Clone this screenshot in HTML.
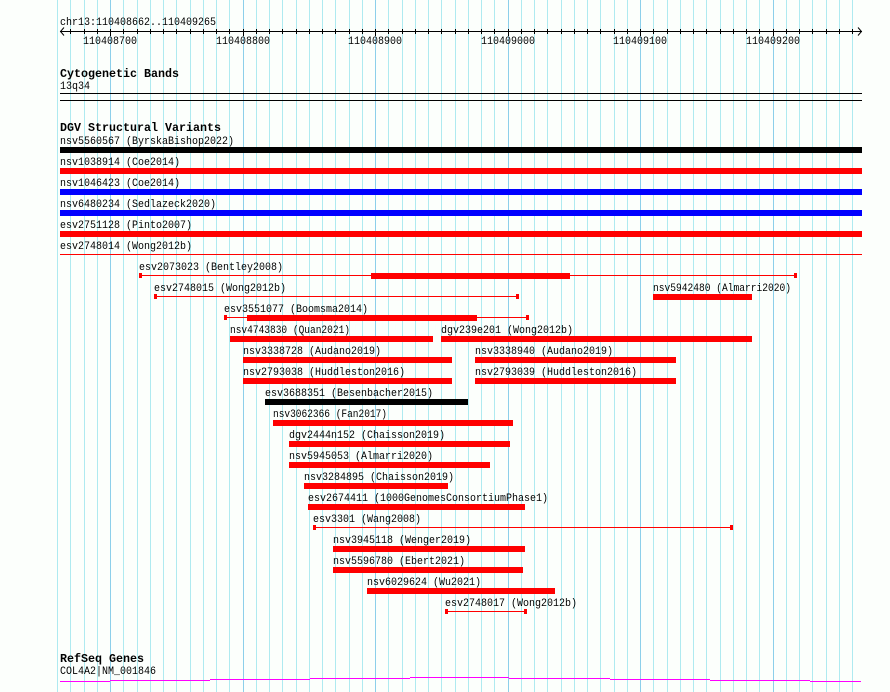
<!DOCTYPE html>
<html><head><meta charset="utf-8">
<style>
html,body{margin:0;padding:0;background:#fcfffc;}
svg{display:block;}
text{font-family:"Liberation Mono","DejaVu Sans Mono",monospace;fill:#000;}
.l{font-size:11px;}
.b{font-size:12px;font-weight:bold;}
</style></head>
<body>
<svg width="890" height="692" viewBox="0 0 890 692" xmlns="http://www.w3.org/2000/svg" shape-rendering="crispEdges">
<rect x="0" y="0" width="890" height="692" fill="#fcfffc"/>
<!-- grid -->
<g fill="#aeeaf0">
<rect x="57" y="0" width="1" height="692"/><rect x="70" y="0" width="1" height="692"/><rect x="84" y="0" width="1" height="692"/><rect x="97" y="0" width="1" height="692"/>
<rect x="123" y="0" width="1" height="692"/><rect x="137" y="0" width="1" height="692"/><rect x="150" y="0" width="1" height="692"/><rect x="163" y="0" width="1" height="692"/><rect x="176" y="0" width="1" height="692"/><rect x="190" y="0" width="1" height="692"/><rect x="203" y="0" width="1" height="692"/><rect x="216" y="0" width="1" height="692"/><rect x="229" y="0" width="1" height="692"/>
<rect x="256" y="0" width="1" height="692"/><rect x="269" y="0" width="1" height="692"/><rect x="282" y="0" width="1" height="692"/><rect x="296" y="0" width="1" height="692"/><rect x="309" y="0" width="1" height="692"/><rect x="322" y="0" width="1" height="692"/><rect x="335" y="0" width="1" height="692"/><rect x="349" y="0" width="1" height="692"/><rect x="362" y="0" width="1" height="692"/>
<rect x="388" y="0" width="1" height="692"/><rect x="402" y="0" width="1" height="692"/><rect x="415" y="0" width="1" height="692"/><rect x="428" y="0" width="1" height="692"/><rect x="441" y="0" width="1" height="692"/><rect x="455" y="0" width="1" height="692"/><rect x="468" y="0" width="1" height="692"/><rect x="481" y="0" width="1" height="692"/><rect x="494" y="0" width="1" height="692"/>
<rect x="521" y="0" width="1" height="692"/><rect x="534" y="0" width="1" height="692"/><rect x="547" y="0" width="1" height="692"/><rect x="561" y="0" width="1" height="692"/><rect x="574" y="0" width="1" height="692"/><rect x="587" y="0" width="1" height="692"/><rect x="600" y="0" width="1" height="692"/><rect x="614" y="0" width="1" height="692"/><rect x="627" y="0" width="1" height="692"/>
<rect x="653" y="0" width="1" height="692"/><rect x="667" y="0" width="1" height="692"/><rect x="680" y="0" width="1" height="692"/><rect x="693" y="0" width="1" height="692"/><rect x="706" y="0" width="1" height="692"/><rect x="720" y="0" width="1" height="692"/><rect x="733" y="0" width="1" height="692"/><rect x="746" y="0" width="1" height="692"/><rect x="759" y="0" width="1" height="692"/>
<rect x="786" y="0" width="1" height="692"/><rect x="799" y="0" width="1" height="692"/><rect x="812" y="0" width="1" height="692"/><rect x="826" y="0" width="1" height="692"/><rect x="839" y="0" width="1" height="692"/><rect x="852" y="0" width="1" height="692"/>
</g>
<g fill="#8ccfea">
<rect x="110" y="0" width="1" height="692"/><rect x="243" y="0" width="1" height="692"/><rect x="375" y="0" width="1" height="692"/><rect x="508" y="0" width="1" height="692"/><rect x="640" y="0" width="1" height="692"/><rect x="773" y="0" width="1" height="692"/>
</g>

<!-- ruler -->
<text class="l" x="60" y="25" textLength="156" lengthAdjust="spacingAndGlyphs">chr13:110408662..110409265</text>
<rect x="60" y="31" width="802" height="1" fill="#000"/>
<path d="M64,27.5 L60.5,31.5 L64,35.5" stroke="#000" fill="none" shape-rendering="auto"/>
<path d="M858,27.5 L861.5,31.5 L858,35.5" stroke="#000" fill="none" shape-rendering="auto"/>
<g fill="#000">
<rect x="70" y="29" width="1" height="5"/><rect x="84" y="29" width="1" height="5"/><rect x="97" y="29" width="1" height="5"/>
<rect x="110" y="29" width="1" height="7"/>
<rect x="123" y="29" width="1" height="5"/><rect x="137" y="29" width="1" height="5"/><rect x="150" y="29" width="1" height="5"/><rect x="163" y="29" width="1" height="5"/><rect x="176" y="29" width="1" height="5"/><rect x="190" y="29" width="1" height="5"/><rect x="203" y="29" width="1" height="5"/><rect x="216" y="29" width="1" height="5"/><rect x="229" y="29" width="1" height="5"/>
<rect x="243" y="29" width="1" height="7"/>
<rect x="256" y="29" width="1" height="5"/><rect x="269" y="29" width="1" height="5"/><rect x="282" y="29" width="1" height="5"/><rect x="296" y="29" width="1" height="5"/><rect x="309" y="29" width="1" height="5"/><rect x="322" y="29" width="1" height="5"/><rect x="335" y="29" width="1" height="5"/><rect x="349" y="29" width="1" height="5"/><rect x="362" y="29" width="1" height="5"/>
<rect x="375" y="29" width="1" height="7"/>
<rect x="388" y="29" width="1" height="5"/><rect x="402" y="29" width="1" height="5"/><rect x="415" y="29" width="1" height="5"/><rect x="428" y="29" width="1" height="5"/><rect x="441" y="29" width="1" height="5"/><rect x="455" y="29" width="1" height="5"/><rect x="468" y="29" width="1" height="5"/><rect x="481" y="29" width="1" height="5"/><rect x="494" y="29" width="1" height="5"/>
<rect x="508" y="29" width="1" height="7"/>
<rect x="521" y="29" width="1" height="5"/><rect x="534" y="29" width="1" height="5"/><rect x="547" y="29" width="1" height="5"/><rect x="561" y="29" width="1" height="5"/><rect x="574" y="29" width="1" height="5"/><rect x="587" y="29" width="1" height="5"/><rect x="600" y="29" width="1" height="5"/><rect x="614" y="29" width="1" height="5"/><rect x="627" y="29" width="1" height="5"/>
<rect x="640" y="29" width="1" height="7"/>
<rect x="653" y="29" width="1" height="5"/><rect x="667" y="29" width="1" height="5"/><rect x="680" y="29" width="1" height="5"/><rect x="693" y="29" width="1" height="5"/><rect x="706" y="29" width="1" height="5"/><rect x="720" y="29" width="1" height="5"/><rect x="733" y="29" width="1" height="5"/><rect x="746" y="29" width="1" height="5"/><rect x="759" y="29" width="1" height="5"/>
<rect x="773" y="29" width="1" height="7"/>
<rect x="786" y="29" width="1" height="5"/><rect x="799" y="29" width="1" height="5"/><rect x="812" y="29" width="1" height="5"/><rect x="826" y="29" width="1" height="5"/><rect x="839" y="29" width="1" height="5"/><rect x="852" y="29" width="1" height="5"/>
</g>
<text class="l" x="83" y="44" textLength="54" lengthAdjust="spacingAndGlyphs">110408700</text>
<text class="l" x="216" y="44" textLength="54" lengthAdjust="spacingAndGlyphs">110408800</text>
<text class="l" x="348" y="44" textLength="54" lengthAdjust="spacingAndGlyphs">110408900</text>
<text class="l" x="481" y="44" textLength="54" lengthAdjust="spacingAndGlyphs">110409000</text>
<text class="l" x="613" y="44" textLength="54" lengthAdjust="spacingAndGlyphs">110409100</text>
<text class="l" x="746" y="44" textLength="54" lengthAdjust="spacingAndGlyphs">110409200</text>

<!-- cytogenetic bands -->
<text class="b" x="60" y="77" textLength="119" lengthAdjust="spacingAndGlyphs">Cytogenetic Bands</text>
<text class="l" x="60" y="89" textLength="30" lengthAdjust="spacingAndGlyphs">13q34</text>
<rect x="60" y="93" width="802" height="1" fill="#000"/>
<rect x="60" y="100" width="802" height="1" fill="#000"/>

<!-- DGV -->
<text class="b" x="60" y="131" textLength="161" lengthAdjust="spacingAndGlyphs">DGV Structural Variants</text>
<text class="l" x="60" y="144" textLength="174" lengthAdjust="spacingAndGlyphs">nsv5560567 (ByrskaBishop2022)</text>
<rect x="60" y="147" width="802" height="6" fill="#000"/>
<text class="l" x="60" y="165" textLength="120" lengthAdjust="spacingAndGlyphs">nsv1038914 (Coe2014)</text>
<rect x="60" y="168" width="802" height="6" fill="#ff0000"/>
<text class="l" x="60" y="186" textLength="120" lengthAdjust="spacingAndGlyphs">nsv1046423 (Coe2014)</text>
<rect x="60" y="189" width="802" height="6" fill="#0000ff"/>
<text class="l" x="60" y="207" textLength="156" lengthAdjust="spacingAndGlyphs">nsv6480234 (Sedlazeck2020)</text>
<rect x="60" y="210" width="802" height="6" fill="#0000ff"/>
<text class="l" x="60" y="228" textLength="132" lengthAdjust="spacingAndGlyphs">esv2751128 (Pinto2007)</text>
<rect x="60" y="231" width="802" height="6" fill="#ff0000"/>
<text class="l" x="60" y="249" textLength="132" lengthAdjust="spacingAndGlyphs">esv2748014 (Wong2012b)</text>
<rect x="60" y="254" width="802" height="1" fill="#ff0000"/>

<g fill="#ff0000">
<!-- R1 -->
<rect x="139" y="275" width="658" height="1"/><rect x="139" y="273" width="3" height="5"/><rect x="794" y="273" width="3" height="5"/><rect x="371" y="273" width="199" height="6"/>
<!-- R2 -->
<rect x="154" y="296" width="365" height="1"/><rect x="154" y="294" width="3" height="5"/><rect x="516" y="294" width="3" height="5"/>
<rect x="653" y="294" width="99" height="6"/>
<!-- R3 -->
<rect x="224" y="317" width="305" height="1"/><rect x="224" y="315" width="3" height="5"/><rect x="526" y="315" width="3" height="5"/><rect x="247" y="315" width="230" height="6"/>
<!-- R4 -->
<rect x="230" y="336" width="203" height="6"/><rect x="441" y="336" width="311" height="6"/>
<!-- R5 -->
<rect x="243" y="357" width="209" height="6"/><rect x="475" y="357" width="201" height="6"/>
<!-- R6 -->
<rect x="243" y="378" width="209" height="6"/><rect x="475" y="378" width="201" height="6"/>
<!-- R8.. -->
<rect x="273" y="420" width="240" height="6"/>
<rect x="289" y="441" width="221" height="6"/>
<rect x="289" y="462" width="201" height="6"/>
<rect x="304" y="483" width="144" height="6"/>
<rect x="308" y="504" width="217" height="6"/>
<rect x="313" y="527" width="420" height="1"/><rect x="313" y="525" width="3" height="5"/><rect x="730" y="525" width="3" height="5"/>
<rect x="333" y="546" width="192" height="6"/>
<rect x="333" y="567" width="190" height="6"/>
<rect x="367" y="588" width="188" height="6"/>
<rect x="445" y="611" width="82" height="1"/><rect x="445" y="609" width="3" height="5"/><rect x="524" y="609" width="3" height="5"/>
</g>
<rect x="265" y="399" width="203" height="6" fill="#000"/>

<text class="l" x="139" y="270" textLength="144" lengthAdjust="spacingAndGlyphs">esv2073023 (Bentley2008)</text>
<text class="l" x="154" y="291" textLength="132" lengthAdjust="spacingAndGlyphs">esv2748015 (Wong2012b)</text>
<text class="l" x="653" y="291" textLength="138" lengthAdjust="spacingAndGlyphs">nsv5942480 (Almarri2020)</text>
<text class="l" x="224" y="312" textLength="144" lengthAdjust="spacingAndGlyphs">esv3551077 (Boomsma2014)</text>
<text class="l" x="230" y="333" textLength="120" lengthAdjust="spacingAndGlyphs">nsv4743830 (Quan2021)</text>
<text class="l" x="441" y="333" textLength="132" lengthAdjust="spacingAndGlyphs">dgv239e201 (Wong2012b)</text>
<text class="l" x="243" y="354" textLength="138" lengthAdjust="spacingAndGlyphs">nsv3338728 (Audano2019)</text>
<text class="l" x="475" y="354" textLength="138" lengthAdjust="spacingAndGlyphs">nsv3338940 (Audano2019)</text>
<text class="l" x="243" y="375" textLength="162" lengthAdjust="spacingAndGlyphs">nsv2793038 (Huddleston2016)</text>
<text class="l" x="475" y="375" textLength="162" lengthAdjust="spacingAndGlyphs">nsv2793039 (Huddleston2016)</text>
<text class="l" x="265" y="396" textLength="168" lengthAdjust="spacingAndGlyphs">esv3688351 (Besenbacher2015)</text>
<text class="l" x="273" y="417" textLength="114" lengthAdjust="spacingAndGlyphs">nsv3062366 (Fan2017)</text>
<text class="l" x="289" y="438" textLength="156" lengthAdjust="spacingAndGlyphs">dgv2444n152 (Chaisson2019)</text>
<text class="l" x="289" y="459" textLength="144" lengthAdjust="spacingAndGlyphs">nsv5945053 (Almarri2020)</text>
<text class="l" x="304" y="480" textLength="150" lengthAdjust="spacingAndGlyphs">nsv3284895 (Chaisson2019)</text>
<text class="l" x="308" y="501" textLength="240" lengthAdjust="spacingAndGlyphs">esv2674411 (1000GenomesConsortiumPhase1)</text>
<text class="l" x="313" y="522" textLength="108" lengthAdjust="spacingAndGlyphs">esv3301 (Wang2008)</text>
<text class="l" x="333" y="543" textLength="138" lengthAdjust="spacingAndGlyphs">nsv3945118 (Wenger2019)</text>
<text class="l" x="333" y="564" textLength="132" lengthAdjust="spacingAndGlyphs">nsv5596780 (Ebert2021)</text>
<text class="l" x="367" y="585" textLength="114" lengthAdjust="spacingAndGlyphs">nsv6029624 (Wu2021)</text>
<text class="l" x="445" y="606" textLength="132" lengthAdjust="spacingAndGlyphs">esv2748017 (Wong2012b)</text>

<!-- RefSeq -->
<text class="b" x="60" y="662" textLength="84" lengthAdjust="spacingAndGlyphs">RefSeq Genes</text>
<text class="l" x="60" y="674" textLength="96" lengthAdjust="spacingAndGlyphs">COL4A2|NM_001846</text>
<g fill="#ff00ff">
<rect x="60" y="681" width="50" height="1"/>
<rect x="110" y="680" width="100" height="1"/>
<rect x="210" y="679" width="100" height="1"/>
<rect x="310" y="678" width="100" height="1"/>
<rect x="410" y="677" width="99" height="1"/>
<rect x="509" y="678" width="101" height="1"/>
<rect x="610" y="679" width="100" height="1"/>
<rect x="710" y="680" width="100" height="1"/>
<rect x="810" y="681" width="51" height="1"/>
</g>
</svg>
</body></html>
